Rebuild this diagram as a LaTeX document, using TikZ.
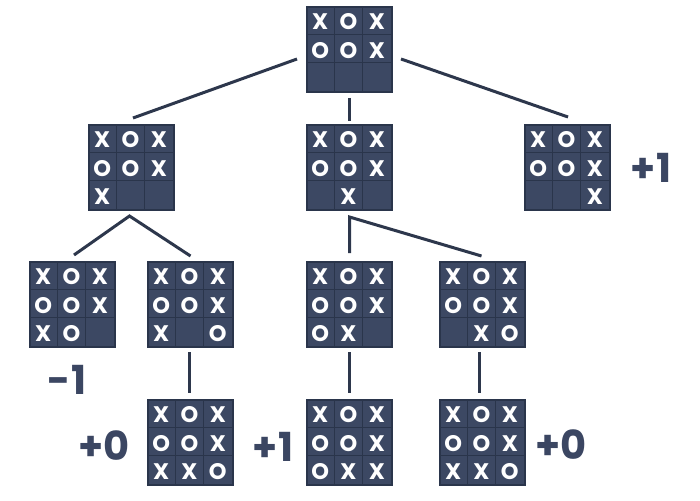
\documentclass[tikz,border=0pt]{standalone}
\usepackage{fontspec}
\setmainfont{Poppins}
\usetikzlibrary{calc}

\definecolor{boardfill}{RGB}{60,72,99}
\definecolor{gridcol}{RGB}{42,53,75}
\definecolor{edgecol}{RGB}{45,55,76}
\definecolor{scorecol}{RGB}{59,70,98}

% name, centre, nine marks (row by row)
\newcommand\tttboard[3]{%
	\node[boardbox] (#1) at (#2) {};
	\foreach \k in {1,2} {
		\draw[gridline] ($(#1.north west)+(\k*28.33,1)$) -- ($(#1.south west)+(\k*28.33,-1)$);
		\draw[gridline] ($(#1.north west)+(1,\k*28.33)$) -- ($(#1.north east)+(-1,\k*28.33)$);
	}
	\foreach \m [count=\i from 0] in {#3}
		\node[cellmark] at ($(#1.north west)+({mod(\i,3)*28.33+14.17},{int(\i/3)*28.33+15.8})$) {\m};
}

\begin{document}
\begin{tikzpicture}[x=1pt,y=-1pt,
	boardbox/.style={draw=gridcol, line width=2pt, fill=boardfill, minimum size=85pt, inner sep=0pt},
	gridline/.style={gridcol, line width=1.5pt},
	cellmark/.style={text=white, font=\bfseries\fontsize{22.5}{22.5}\selectfont, inner sep=0pt},
	edge/.style={edgecol, line width=3pt},
	score/.style={text=scorecol, font=\bfseries\fontsize{40}{40}\selectfont, inner sep=0pt}]

		\useasboundingbox (0,0) rectangle (700,500);

		\tttboard{root}{349.5,49.5}{X,O,X,O,O,X,{},{},{}}

		\tttboard{left}{131.5,167.5}{X,O,X,O,O,X,X,{},{}}
		\tttboard{mid}{349.5,167.5}{X,O,X,O,O,X,{},X,{}}
		\tttboard{right}{567.5,167.5}{X,O,X,O,O,X,{},{},X}

		\tttboard{ll}{72.5,304.5}{X,O,X,O,O,X,X,O,{}}
		\tttboard{lr}{190.5,304.5}{X,O,X,O,O,X,X,{},O}
		\tttboard{ml}{349.5,304.5}{X,O,X,O,O,X,O,X,{}}
		\tttboard{mr}{482.5,304.5}{X,O,X,O,O,X,{},X,O}

		\tttboard{lrend}{190.5,442.5}{X,O,X,O,O,X,X,X,O}
		\tttboard{mlend}{349.5,442.5}{X,O,X,O,O,X,O,X,X}
		\tttboard{mrend}{482.5,442.5}{X,O,X,O,O,X,X,X,O}

		\coordinate (lfork) at ($(left.south)+(-2,5)$);
		\coordinate (mfork) at ($(mid.south)+(0,6)$);

		\draw[edge] ($(root.west)+(-9,9.5)$) -- ($(left.north)+(1.5,-6)$);
		\draw[edge] ($(root.south)+(0,5)$) -- ($(mid.north)+(0,-3)$);
		\draw[edge] ($(root.east)+(8,9.5)$) -- ($(right.north)+(0.5,-7)$);

		\draw[edge] ($(ll.north)+(1.5,-6)$) -- (lfork) -- ($(lr.north)+(0,-5)$);
		\draw[edge] ($(ml.north)+(0,-8)$) -- (mfork) -- ($(mr.north)+(-1,-5)$);

		\draw[edge] ($(lr.south)+(-1,4)$) -- ($(lrend.north)+(-1,-6)$);
		\draw[edge] ($(ml.south)+(0,4)$) -- ($(mlend.north)+(0,-6)$);
		\draw[edge] ($(mr.south)+(-3,4)$) -- ($(mrend.north)+(-3,-6)$);

		\node[score] (sright) at ($(right.east)+(40,0)$) {+1};
		\node[score] (sll) at ($(ll.south)+(-5.5,32)$) {-1};
		\node[score] (slrend) at ($(lrend.west)+(-43,3.5)$) {+0};
		\node[score] (smlend) at ($(mlend.west)+(-33,4.5)$) {+1};
		\node[score] (smrend) at ($(mrend.east)+(35,2.5)$) {+0};
	\end{tikzpicture}
\end{document}
